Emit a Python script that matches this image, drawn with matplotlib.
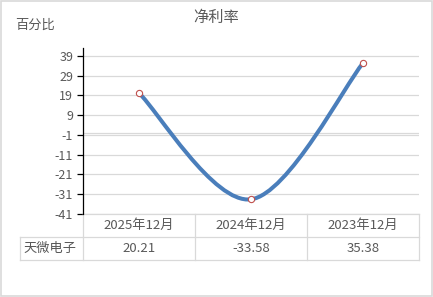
import matplotlib.pyplot as plt
import matplotlib.transforms as mtransforms
from matplotlib.path import Path
from matplotlib.patches import PathPatch, Rectangle

plt.rcParams['font.family'] = ['Noto Sans CJK SC', 'DejaVu Sans']

# data
categories = ['2025年12月', '2024年12月', '2023年12月']
series_name = '天微电子'
values = [20.21, -33.58, 35.38]
y_ticks = [39, 29, 19, 9, -1, -11, -21, -31, -41]

text_color = '#595959'
grid_color = '#d9d9d9'
line_color = '#4a7ebb'

fig = plt.figure(figsize=(4.33, 2.97), dpi=100)
fig.patches.append(Rectangle((0.002, 0.003), 0.995, 0.994, transform=fig.transFigure,
                             fill=False, edgecolor=grid_color, linewidth=1.2))
ax = fig.add_axes([0.1917, 0.2795, 0.776, 0.5589])

x = list(range(len(values)))

# smooth curve like Excel (cubic bezier, tension 1/6)
pts = list(zip(x, values))
verts = [pts[0]]
codes = [Path.MOVETO]
for i in range(len(pts) - 1):
    p_prev = pts[i - 1] if i > 0 else pts[i]
    p0, p1 = pts[i], pts[i + 1]
    p_next = pts[i + 2] if i + 2 < len(pts) else pts[i + 1]
    c1 = (p0[0] + (p1[0] - p_prev[0]) / 6, p0[1] + (p1[1] - p_prev[1]) / 6)
    c2 = (p1[0] - (p_next[0] - p0[0]) / 6, p1[1] - (p_next[1] - p0[1]) / 6)
    verts += [c1, c2, p1]
    codes += [Path.CURVE4] * 3
ax.add_patch(PathPatch(Path(verts, codes), facecolor='none', edgecolor=line_color,
                       linewidth=2.9, capstyle='round', zorder=3))
ax.plot(x, values, linestyle='none', marker='o', markersize=4.5,
        markerfacecolor='white', markeredgecolor='#c0504d', markeredgewidth=0.8, zorder=4)

ax.set_xlim(-0.5, len(values) - 0.5)
ax.set_ylim(-41, 43)
ax.set_yticks(y_ticks)
ax.set_yticklabels([str(t) for t in y_ticks])
ax.set_xticks([])
ax.yaxis.grid(True, color=grid_color, linewidth=0.9)
ax.axhline(0, color=grid_color, linewidth=0.9)
ax.set_axisbelow(True)
for s in ['top', 'right', 'bottom']:
    ax.spines[s].set_visible(False)
ax.spines['left'].set_color('black')
ax.spines['left'].set_linewidth(0.9)
ax.spines['left'].set_zorder(5)
ax.tick_params(axis='y', direction='out', length=4, width=0.9, colors='black',
               labelcolor=text_color, labelsize=9, pad=3)

# data table under the axis (x in data units, y in axes fraction)
tr = mtransforms.blended_transform_factory(ax.transData, ax.transAxes)
row_h = 23 / 166
x_left = -0.5
x_right = len(values) - 0.5
x_label = x_left - 63 / 112
lk = dict(color=grid_color, linewidth=0.9, transform=tr, clip_on=False)
ax.plot([x_left, x_right], [0, 0], **lk)
ax.plot([x_label, x_right], [-row_h, -row_h], **lk)
ax.plot([x_label, x_right], [-2 * row_h, -2 * row_h], **lk)
ax.plot([x_label, x_label], [-row_h, -2 * row_h], **lk)
for b in range(len(values) + 1):
    ax.plot([b - 0.5, b - 0.5], [0, -2 * row_h], **lk)
tk = dict(color=text_color, fontsize=9.5, transform=tr, va='center', clip_on=False)
for i, (cat, v) in enumerate(zip(categories, values)):
    ax.text(i, -0.5 * row_h, cat, ha='center', **tk)
    ax.text(i, -1.5 * row_h, f'{v:.2f}', ha='center', **tk)
ax.text(x_label + 0.03, -1.5 * row_h, series_name, ha='left', **tk)

fig.text(0.5, 0.94, '净利率', ha='center', va='center', fontsize=11, color=text_color)
fig.text(0.035, 0.915, '百分比', ha='left', va='center', fontsize=9.5, color=text_color)

fig.savefig('out.png', dpi=100)
